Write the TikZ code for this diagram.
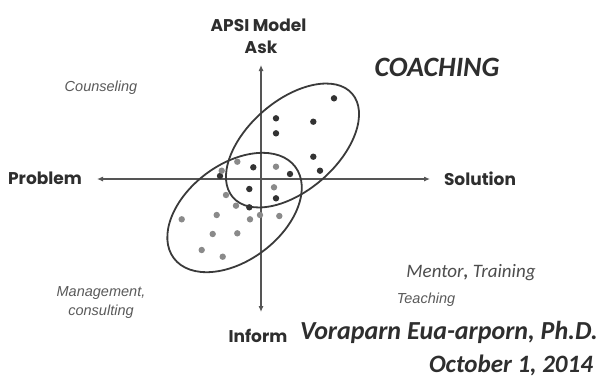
\documentclass[tikz,border=0pt]{standalone}
\usepackage{fontspec}
\setmainfont{Liberation Sans}
\newfontfamily\axisfont{Poppins}
\newfontfamily\notefont{Liberation Sans}
\newfontfamily\titlefont{Carlito}
\usetikzlibrary{arrows.meta}
\definecolor{inkdark}{HTML}{2E2E2E}
\definecolor{inkaxis}{HTML}{555555}
\definecolor{inkloop}{HTML}{3A3A3A}
\definecolor{dotdark}{HTML}{333333}
\definecolor{dotgray}{HTML}{8A8A8A}
\definecolor{notegray}{HTML}{5A5A5A}
\tikzset{
  axis/.style={draw=inkaxis, line width=1.1pt, {Latex[length=6pt,width=5pt]}-{Latex[length=6pt,width=5pt]}},
  loop/.style={draw=inkloop, line width=1.8pt},
  axislabel/.style={inner sep=0pt, text=inkdark, font=\axisfont\bfseries\fontsize{17}{20}\selectfont},
  note/.style={inner sep=0pt, text=notegray, font=\notefont\itshape\fontsize{14.5}{19}\selectfont, align=center},
  titletext/.style={inner sep=0pt, text=inkdark, font=\titlefont\bfseries\itshape\fontsize{26}{30}\selectfont},
  dk/.style={fill=dotdark},
  gr/.style={fill=dotgray}
}
\begin{document}
\begin{tikzpicture}[x=1pt,y=-1pt]
  \fill[white] (0,0) rectangle (604,384);
  \useasboundingbox (0,0) rectangle (604,384);

  % axes
  \coordinate (W) at (97,179);
  \coordinate (E) at (430,179);
  \coordinate (N) at (261,65);
  \coordinate (S) at (261,312);
  \draw[axis] (W) -- (E);
  \draw[axis] (S) -- (N);

  % axis labels
  \node[axislabel] (apsi) at (258.5,25) {APSI Model};
  \node[axislabel] (ask) at (261,47) {Ask};
  \node[axislabel] (problem) at (45,178) {Problem};
  \node[axislabel] (solution) at (480,179) {Solution};
  \node[axislabel] (inform) at (258,336) {Inform};

  % two clusters
  \coordinate (cu) at (292.5,145.5);
  \coordinate (cl) at (234.5,212.5);
  \draw[loop, rotate around={41:(cu)}] (cu) ellipse [x radius=79pt, y radius=45pt];
  \draw[loop, rotate around={37:(cl)}] (cl) ellipse [x radius=76pt, y radius=48pt];

  % data points
  \foreach \x/\y in {334/98.3, 276/118.3, 313.3/121.7, 276/133.3, 313.3/156.7,
                     320/170.7, 253.3/167.3, 290/174, 220/176, 249.3/189,
                     276/198.3, 249.3/207.3}
    \fill[dk] (\x,\y) circle (3.2pt);
  \foreach \x/\y in {237.3/161.7, 221.7/170.7, 276/166.7, 274/187.3, 226/195,
                     236/205.7, 260/215, 279.3/216, 250/219.3, 216.7/215,
                     181.7/219.3, 237.3/233.3, 212.7/234, 201.7/250, 222.7/256.7}
    \fill[gr] (\x,\y) circle (3.2pt);

  % quadrant notes
  \node[note] (counsel) at (101,88) {Counseling};
  \node[note] (manage) at (101,302.5) {Management,\\consulting};
  \node[note] (teach) at (426,300) {Teaching};
  \node[inner sep=0pt, text=inkdark!85, font=\titlefont\itshape\fontsize{19}{22}\selectfont] (mentor) at (471,273) {Mentor\textbf{,} Training};

  % title and credits
  \node[titletext, font=\titlefont\bfseries\itshape\fontsize{28}{32}\selectfont] (coach) at (437,67) {COACHING};
  \node[titletext] (author) at (449,332) {Voraparn Eua-arporn, Ph.D.};
  \node[titletext, font=\titlefont\bfseries\itshape\fontsize{25}{30}\selectfont] (date) at (511,365) {October 1, 2014};
\end{tikzpicture}
\end{document}
